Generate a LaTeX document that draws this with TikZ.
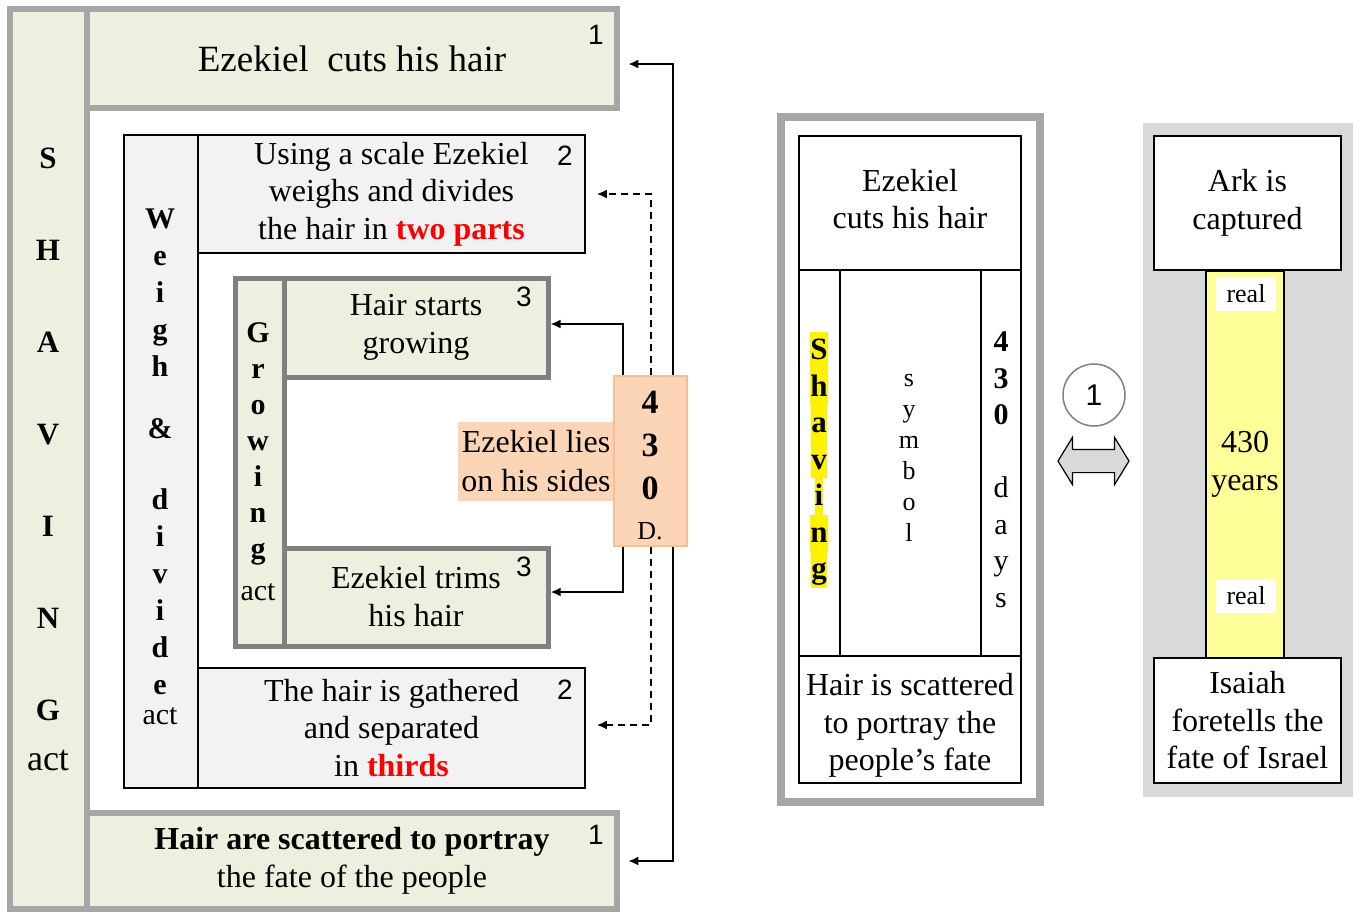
\documentclass[tikz,border=0pt]{standalone}
\usepackage{fontspec}
\setmainfont{Liberation Serif}
\newfontfamily\numfont{Liberation Sans}
\usepackage{tikz}
\usetikzlibrary{shapes, arrows.meta, positioning, calc}
\definecolor{ActGreen}{RGB}{235,241,222}
\definecolor{ActGray}{RGB}{242,242,242}
\definecolor{FrameGray}{RGB}{166,166,166}
\definecolor{GrowGray}{RGB}{128,128,128}
\definecolor{DayPeach}{RGB}{251,213,181}
\definecolor{DayBorder}{RGB}{247,190,150}
\definecolor{PanelGray}{RGB}{217,217,217}
\definecolor{BarYellow}{RGB}{255,255,153}
\newcommand{\yelbox}[1]{{\setlength{\fboxsep}{0pt}\colorbox{yellow}{\rule[-9pt]{0pt}{36.5pt}#1}}}

\begin{document}
\begin{tikzpicture}[x=1pt, y=-1pt, >={Latex[length=10pt, width=9pt]}]
      \tikzstyle{outerbox} = [rectangle, draw=FrameGray, fill=ActGreen, line width=6.5pt, inner sep=0pt, align=center, font=\fontsize{32}{38}\selectfont]
      \tikzstyle{weighbox} = [rectangle, draw=black, fill=ActGray, line width=1.5pt, inner sep=0pt, align=center, font=\fontsize{32}{37.5}\selectfont]
      \tikzstyle{growbox} = [rectangle, draw=GrowGray, fill=ActGreen, line width=5pt, inner sep=0pt, align=center, font=\fontsize{32}{38}\selectfont]
      \tikzstyle{plainbox} = [rectangle, draw=black, fill=white, line width=1.5pt, inner sep=0pt, align=center, font=\fontsize{32}{37.5}\selectfont]
      \tikzstyle{numlabel} = [inner sep=0pt, font=\numfont\fontsize{28}{28}\selectfont]
      \tikzstyle{coltext} = [inner sep=0pt, align=center]
      \tikzstyle{linkarrow} = [->, line width=2pt]

      \useasboundingbox (0,0) rectangle (1353,914);

      % Shaving act
      \node (shav) [outerbox, minimum width=77pt, minimum height=900pt] at (48.5,459) {};
      \node (shavt) [coltext, font=\fontsize{31}{92}\selectfont\bfseries] at (48,459) {S\\H\\A\\V\\I\\N\\G\\[-42pt]{\mdseries\fontsize{36}{36}\selectfont act}};
      \node (top) [outerbox, minimum width=530pt, minimum height=99pt, font=\fontsize{37}{40}\selectfont] at (352,58.5) {Ezekiel\ \ cuts his hair};
      \node (bot) [outerbox, minimum width=530pt, minimum height=96pt] at (352,861) {\textbf{Hair are scattered to portray}\\the fate of the people};
      \node (n1t) [numlabel] at (596,35) {1};
      \node (n1b) [numlabel] at (596,835) {1};

      % Weigh & divide act
      \node (wcol) [weighbox, minimum width=74pt, minimum height=653pt] at (161,461.5) {};
      \node (wcolt) [coltext, font=\fontsize{30}{37}\selectfont\bfseries] at (160,467) {W\\e\\i\\g\\h\\[25pt]\&\\[34pt]d\\i\\v\\i\\d\\e\\[-7pt]{\mdseries act}};
      \node (wtop) [weighbox, minimum width=387pt, minimum height=118pt] at (391.5,194) {Using a scale Ezekiel\\weighs and divides\\the hair in \textcolor{red}{\textbf{two parts}}};
      \node (wbot) [weighbox, minimum width=387pt, minimum height=120pt] at (391.5,728) {The hair is gathered\\and separated\\in \textcolor{red}{\textbf{thirds}}};
      \node (n2t) [numlabel] at (565,156) {2};
      \node (n2b) [numlabel] at (565,690) {2};

      % Growing act
      \node (gcol) [growbox, minimum width=49pt, minimum height=368pt] at (259.5,462) {};
      \node (gcolt) [coltext, font=\fontsize{30}{36}\selectfont\bfseries] at (258,462) {G\\r\\o\\w\\i\\n\\g\\[6pt]{\mdseries act}};
      \node (gtop) [growbox, minimum width=264pt, minimum height=99pt] at (416,327.5) {Hair starts\\growing};
      \node (gbot) [growbox, minimum width=264pt, minimum height=98pt] at (416,597) {Ezekiel trims\\his hair};
      \node (n3t) [numlabel] at (524,297) {3};
      \node (n3b) [numlabel] at (524,567) {3};

      % 430 days
      \node (lies) [fill=DayPeach, minimum width=156pt, minimum height=79pt, inner sep=0pt, align=center, font=\fontsize{32}{39}\selectfont] at (536,461.5) {Ezekiel lies\\on his sides};
      \node (days) [fill=DayPeach, draw=DayBorder, line width=1.5pt, minimum width=73pt, minimum height=170pt, inner sep=0pt] at (650.5,461) {};
      \node (dayst) [coltext, font=\fontsize{34}{43}\selectfont] at (650,465.5) {\textbf{4}\\\textbf{3}\\\textbf{0}\\[-3pt]{\fontsize{26}{26}\selectfont D.}};

      % Connections
      \draw[linkarrow, shorten >=8pt] ([xshift=22pt]days.north) |- ([yshift=-5.5pt]top.east);
      \draw[linkarrow, shorten >=8pt] ([xshift=22pt]days.south) |- (bot.east);
      \draw[linkarrow] ([xshift=-27.5pt]days.north) |- ([yshift=3.5pt]gtop.east);
      \draw[linkarrow] ([xshift=-27.5pt]days.south) |- ([yshift=5pt]gbot.east);
      \draw[linkarrow, dash pattern=on 7pt off 5pt, shorten >=11pt] (days.north) |- (wtop.east);
      \draw[linkarrow, dash pattern=on 7pt off 5pt, shorten >=11pt] (days.south) |- ([yshift=3pt]wbot.east);

      % Symbol panel
      \node (mframe) [draw=FrameGray, fill=white, line width=8pt, minimum width=259pt, minimum height=685pt, inner sep=0pt] at (910.5,459.5) {};
      \node (mtop) [plainbox, minimum width=222pt, minimum height=134pt] at (910,203) {Ezekiel\\cuts his hair\rule[-8pt]{0pt}{8pt}};
      \node (mshav) [plainbox, minimum width=41pt, minimum height=386pt] at (819.5,463) {};
      \node (msym) [plainbox, minimum width=141pt, minimum height=386pt] at (910.5,463) {};
      \node (mdays) [plainbox, minimum width=40pt, minimum height=386pt] at (1001,463) {};
      \node (mbot) [plainbox, minimum width=222pt, minimum height=127pt] at (910,719.5) {\rule{0pt}{34pt}Hair is scattered\\to portray the\\people’s fate};
      \node (mshavt) [coltext, font=\fontsize{31}{36.5}\selectfont\bfseries] at (819,460) {\yelbox{S}\\\yelbox{h}\\\yelbox{a}\\\yelbox{v}\\\yelbox{i}\\\yelbox{n}\\\yelbox{g}};
      \node (msymt) [coltext, font=\fontsize{26}{31}\selectfont] at (909,457.5) {s\\y\\m\\b\\o\\l};
      \node (mdayst) [coltext, font=\fontsize{30}{36.5}\selectfont] at (1001,470) {\textbf{4}\\\textbf{3}\\\textbf{0}\\[36.5pt]d\\a\\y\\s};

      % Link
      \node (cir) [circle, draw=GrowGray, fill=white, line width=1.5pt, minimum size=62pt, inner sep=0pt, font=\numfont\fontsize{30}{30}\selectfont] at (1094,395) {1};
      \node (dbl) [double arrow, draw=black, fill=PanelGray, line width=1.2pt, minimum height=71pt, minimum width=46pt, double arrow head extend=12pt, double arrow tip angle=117, inner xsep=0pt, inner ysep=11pt] at (1093.5,461) {};

      % Real panel
      \node (rpanel) [fill=PanelGray, minimum width=210pt, minimum height=674pt, inner sep=0pt] at (1248,460) {};
      \node (rtop) [plainbox, minimum width=187pt, minimum height=134pt] at (1247.5,203) {Ark is\\captured};
      \node (rbar) [plainbox, fill=BarYellow, minimum width=78pt, minimum height=387pt] at (1245,464.5) {430\\years};
      \node (real1) [fill=white, minimum width=60pt, minimum height=34pt, inner sep=0pt, font=\fontsize{26}{26}\selectfont] at (1246,294) {real};
      \node (real2) [fill=white, minimum width=60pt, minimum height=34pt, inner sep=0pt, font=\fontsize{26}{26}\selectfont] at (1246,595.5) {real};
      \node (rbot) [plainbox, minimum width=187pt, minimum height=125pt] at (1247.5,720.5) {Isaiah\\foretells the\\fate of Israel};
\end{tikzpicture}
\end{document}
